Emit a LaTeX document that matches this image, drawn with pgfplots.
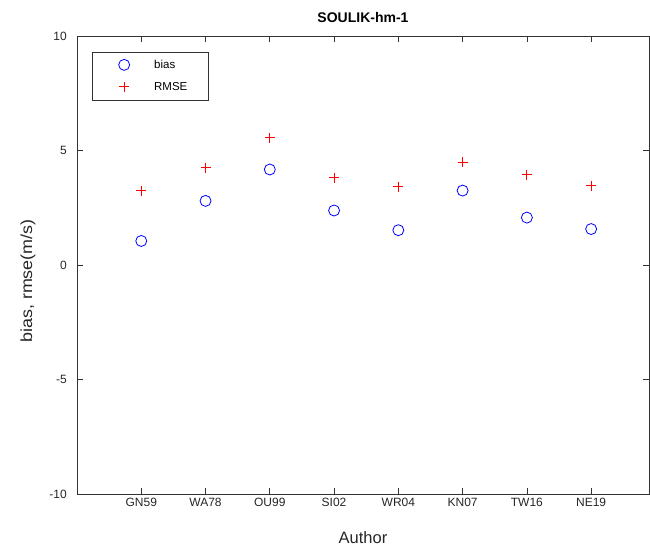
\documentclass[border=0pt]{standalone}
\usepackage{pgfplots}
\pgfplotsset{compat=1.18}
\usepackage{graphicx}
\usepackage{fontspec}
\setmainfont{Liberation Sans}
\begin{document}
\begin{tikzpicture}[x=1pt,y=1pt]
\useasboundingbox (0,0) rectangle (650,548);
\begin{axis}[
  at={(77pt,54pt)}, anchor=south west,
  scale only axis, width=572pt, height=458pt,
  xmin=0, xmax=8.9, ymin=-10, ymax=10,
  xtick={1,2,3,4,5,6,7,8},
  xticklabels={GN59,WA78,OU99,SI02,WR04,KN07,TW16,NE19},
  ytick={-10,-5,0,5,10},
  tick align=inside, major tick length=6pt,
  axis line style={black!80, line width=0.7pt},
  every tick/.style={black!80, line width=0.7pt},
  /pgf/number format/assume math mode=true,
  tick label style={font=\fontsize{12}{14}\selectfont, text=black!85},
  yticklabel style={anchor=east, inner sep=0pt, xshift=-10pt},
  xticklabel style={anchor=north, inner sep=0pt, yshift=-4pt},
  xlabel={Author},
  xlabel style={font=\fontsize{16.5}{18}\selectfont, at={(axis description cs:0.5,0)}, anchor=center, yshift=-44pt, text=black!85},
  ylabel={\scalebox{1.12}[1]{bias, rmse(m/s)}},
  ylabel style={font=\fontsize{16}{18}\selectfont, at={(axis description cs:-0.0857,0.465)}, anchor=center, text=black!85},
  title={\textbf{SOULIK-hm-1}},
  title style={font=\fontsize{14}{16}\selectfont, at={(axis description cs:0.5,1)}, anchor=center, yshift=12.5pt},
  legend image code/.code={\path[draw=none,fill=none] (-28pt,-11pt) rectangle (28pt,11pt); \draw[#1] plot[only marks] coordinates {(0pt,0pt)};},
  legend style={at={(axis description cs:0.026,0.966)}, anchor=north west,
    draw=black!80, line width=0.6pt, inner xsep=4pt, inner ysep=2pt, row sep=0pt,
    font=\fontsize{11.5}{13}\selectfont, cells={anchor=west}},
  legend cell align=left,
]
\addplot[only marks, color=blue, mark=o, mark size=5.5pt, line width=0.8pt, mark options={solid, draw=blue}] coordinates {
(1,1.05) (2,2.80) (3,4.17) (4,2.38) (5,1.52) (6,3.25) (7,2.07) (8,1.57)};
\addlegendentry[text width=48pt]{bias}
\addplot[only marks, color=red, mark=+, mark size=5pt, line width=0.8pt, mark options={solid, draw=red}] coordinates {
(1,3.25) (2,4.25) (3,5.55) (4,3.82) (5,3.42) (6,4.50) (7,3.95) (8,3.47)};
\addlegendentry[text width=48pt]{RMSE}
\end{axis}
\end{tikzpicture}
\end{document}
